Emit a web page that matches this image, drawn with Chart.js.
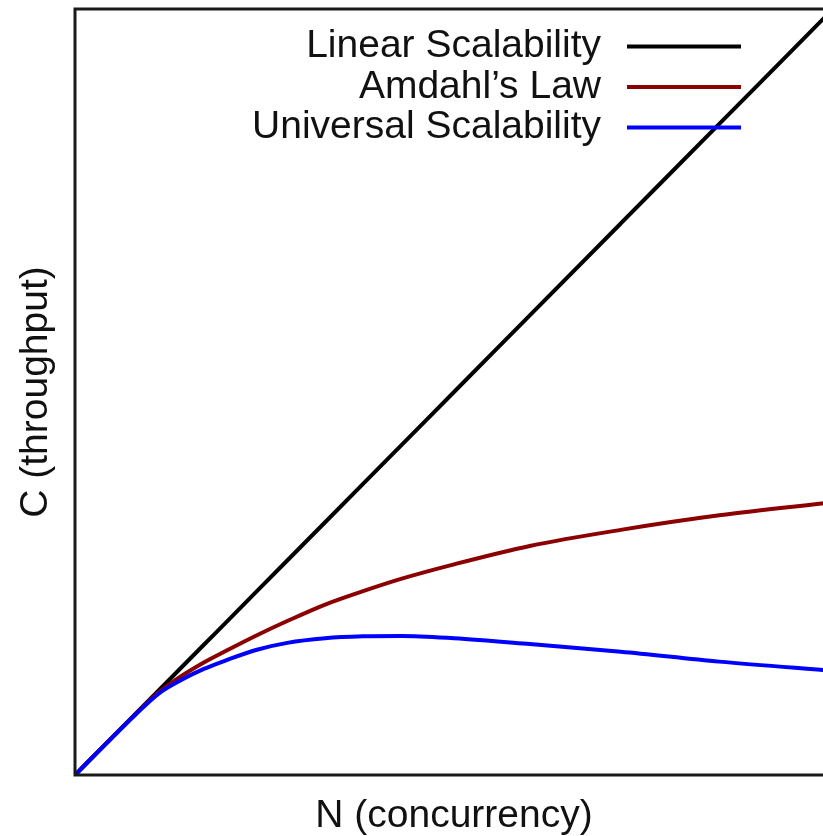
<!DOCTYPE html>
<html>
<head>
<meta charset="utf-8">
<script src="https://cdn.jsdelivr.net/npm/chart.js@4/dist/chart.umd.min.js"></script>
<style>
  html, body { margin: 0; padding: 0; background: #fff; overflow: hidden; }
  #wrap { position: absolute; left: 0; top: 0; width: 836px; height: 836px; }
</style>
</head>
<body>
<div id="wrap"><canvas id="c" width="836" height="836"></canvas></div>
<script>
// Concurrency values (x axis, arbitrary units 0..100)
const concurrency = [0, 4, 8, 11, 14, 17, 20, 24, 28, 33, 38, 43, 50, 60, 72, 85, 100];
// Throughput (same units)
const linearScalability = [0, 4, 8, 11, 14, 17, 20, 24, 28, 33, 38, 43, 50, 60, 72, 85, 100];
const amdahlsLaw = [0, 4, 7.95, 10.75, 12.9, 14.7, 16.25, 18.25, 20.1, 22.25, 24.0, 25.6, 27.5, 29.9, 32.0, 33.9, 35.6];
const universalScalability = [0, 4, 7.9, 10.6, 12.4, 13.85, 15.0, 16.35, 17.25, 17.85, 18.1, 18.15, 17.85, 17.1, 16.1, 14.8, 13.6];

const seriesLabels = ['Linear Scalability', "Amdahl\u2019s Law", 'Universal Scalability'];
const xTitle = 'N (concurrency)';
const yTitle = 'C (throughput)';

const FONT = "'Liberation Sans', Arial, Helvetica, sans-serif";
const TEXT_COLOR = '#111';

function pts(ys) { return concurrency.map((x, i) => ({ x: x, y: ys[i] })); }

const boxPlugin = {
  id: 'box',
  afterDatasetsDraw(chart) {
    const { ctx, chartArea: a } = chart;
    ctx.save();
    ctx.strokeStyle = '#1a1a1a';
    ctx.lineWidth = 3;
    ctx.strokeRect(a.left, a.top, a.right - a.left, a.bottom - a.top);
    ctx.restore();
  }
};

const legendPlugin = {
  id: 'customLegend',
  afterDraw(chart) {
    const { ctx } = chart;
    ctx.save();
    ctx.font = '39px ' + FONT;
    ctx.textAlign = 'right';
    ctx.textBaseline = 'middle';
    chart.data.datasets.forEach((ds, i) => {
      const y = 46.5 + i * 40.5;
      ctx.fillStyle = TEXT_COLOR;
      ctx.fillText(ds.label, 601, y);
      ctx.strokeStyle = ds.borderColor;
      ctx.lineWidth = 4;
      ctx.beginPath();
      ctx.moveTo(627, y);
      ctx.lineTo(741, y);
      ctx.stroke();
    });
    ctx.restore();
  }
};

new Chart(document.getElementById('c'), {
  type: 'line',
  data: {
    datasets: [
      { label: seriesLabels[0], data: pts(linearScalability), borderColor: '#000000', borderWidth: 4, pointRadius: 0, order: 3, cubicInterpolationMode: 'monotone' },
      { label: seriesLabels[1], data: pts(amdahlsLaw), borderColor: '#8b0000', borderWidth: 4, pointRadius: 0, order: 2, cubicInterpolationMode: 'monotone' },
      { label: seriesLabels[2], data: pts(universalScalability), borderColor: '#0000ff', borderWidth: 4, pointRadius: 0, order: 1, cubicInterpolationMode: 'monotone' }
    ]
  },
  options: {
    responsive: false,
    animation: false,
    events: [],
    layout: { padding: { top: 9, right: 3, left: 0, bottom: 0 } },
    plugins: { legend: { display: false }, tooltip: { enabled: false } },
    scales: {
      x: {
        type: 'linear', min: 0, max: 100,
        grid: { display: false },
        border: { display: false },
        ticks: { display: false },
        title: { display: true, text: xTitle, color: TEXT_COLOR, font: { family: FONT, size: 39, lineHeight: 1 }, padding: { top: 0, bottom: 0 } },
        afterFit(scale) { scale.height = 61; }
      },
      y: {
        type: 'linear', min: 0, max: 100,
        grid: { display: false },
        border: { display: false },
        ticks: { display: false },
        title: { display: true, text: yTitle, color: TEXT_COLOR, font: { family: FONT, size: 39, lineHeight: 1 }, padding: { top: 17, bottom: 0 } },
        afterFit(scale) { scale.width = 75; }
      }
    }
  },
  plugins: [boxPlugin, legendPlugin]
});
</script>
</body>
</html>
